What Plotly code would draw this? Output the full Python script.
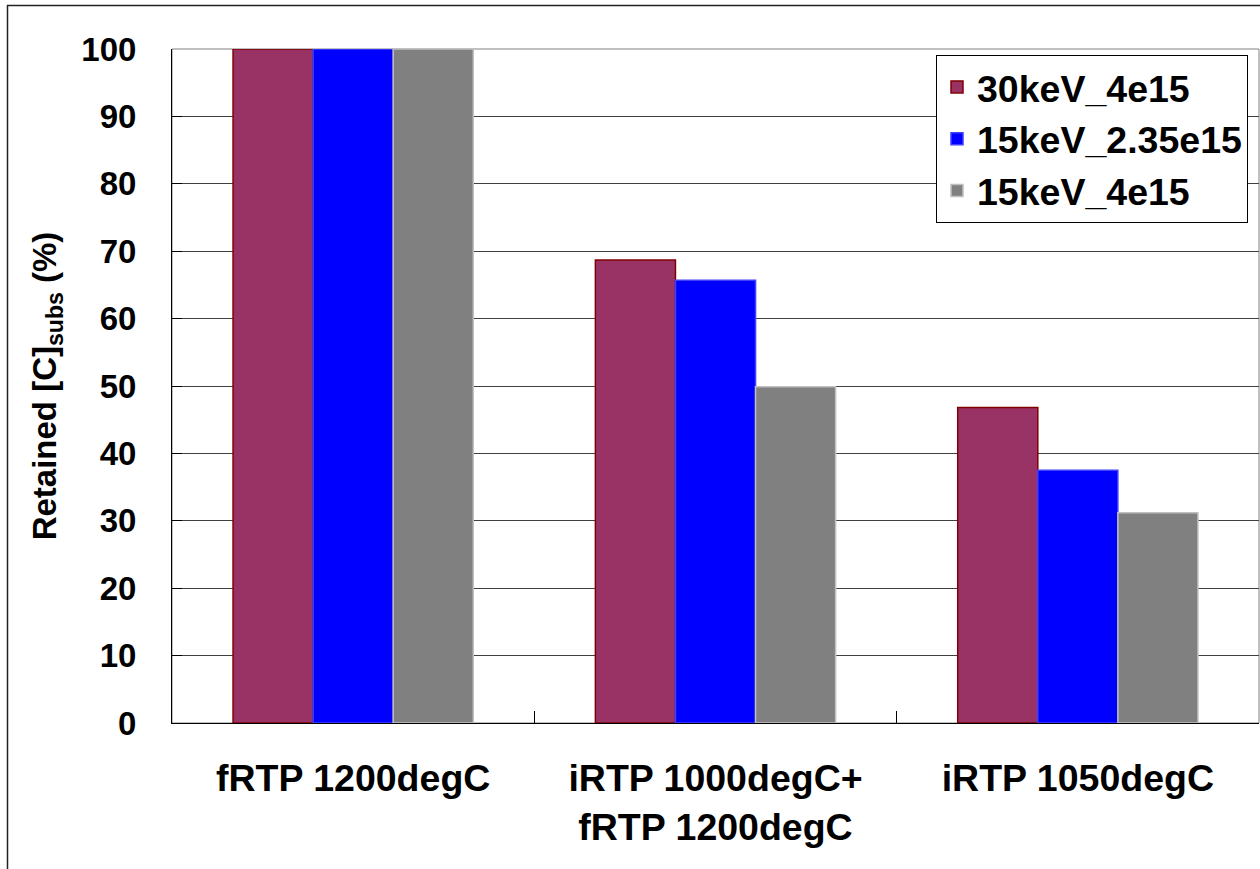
import plotly.graph_objects as go

categories = ["fRTP 1200degC", "iRTP 1000degC+<br>fRTP 1200degC", "iRTP 1050degC"]
series_names = ["30keV_4e15", "15keV_2.35e15", "15keV_4e15"]
s_30keV_4e15 = [100, 68.7, 46.8]
s_15keV_235e15 = [100, 65.7, 37.5]
s_15keV_4e15 = [100, 49.9, 31.2]
y_ticks = [0, 10, 20, 30, 40, 50, 60, 70, 80, 90, 100]

fill_colors = ["#993366", "#0000FF", "#808080"]
line_colors = ["#800000", "#4040FF", "#C0C0C0"]

FONT = "Arial, Liberation Sans, sans-serif"

fig = go.Figure()
for name, vals, fc, lc in zip(series_names, [s_30keV_4e15, s_15keV_235e15, s_15keV_4e15], fill_colors, line_colors):
    fig.add_trace(go.Bar(
        x=categories, y=vals, name=name,
        marker=dict(color=fc, line=dict(color=lc, width=1.5)),
    ))

W, H = 1260, 869
L, R, T, B = 172, 1, 49, 146
pw, ph = W - L - R, H - T - B

def px_x(px):
    return (px - L) / pw

def px_y(py):
    return (H - B - py) / ph

fig.update_layout(
    width=W, height=H,
    margin=dict(l=L, r=R, t=T, b=B, pad=0),
    paper_bgcolor="white", plot_bgcolor="white",
    barmode="group", bargap=0.337, bargroupgap=0,
    font=dict(family=FONT, color="black", size=33, weight="bold"),
    showlegend=True,
    legend=dict(
        x=px_x(936), y=px_y(55), xanchor="left", yanchor="top",
        bgcolor="white", bordercolor="black", borderwidth=1,
        font=dict(family=FONT, size=37.5, color="black", weight="bold"),
        tracegroupgap=0,
    ),
    xaxis=dict(
        showline=True, linecolor="black", linewidth=1,
        ticks="inside", ticklen=12, tickcolor="black", tickwidth=1,
        tickson="boundaries", showgrid=False,
        tickfont=dict(family=FONT, size=37.5, color="black", weight="bold"),
        ticklabelstandoff=22,
    ),
    yaxis=dict(
        range=[0, 100], tickvals=y_ticks, ticktext=[str(v) for v in y_ticks],
        showline=True, linecolor="black", linewidth=1,
        ticks="inside", ticklen=10, tickcolor="black", tickwidth=1,
        showgrid=True, gridcolor="#404040", gridwidth=1,
        tickfont=dict(family=FONT, size=33, color="black", weight="bold"),
        ticklabelstandoff=28,
        title=dict(text="Retained [C]<sub>subs</sub> (%)",
                   font=dict(family=FONT, size=33, color="black", weight="bold"),
                   standoff=14),
        zeroline=False,
    ),
    shapes=[
        dict(type="rect", xref="paper", yref="paper", x0=0, x1=1, y0=0, y1=1,
             line=dict(color="#808080", width=1), fillcolor="rgba(0,0,0,0)", layer="below"),
        dict(type="rect", xref="paper", yref="paper",
             x0=px_x(7.5), x1=px_x(1275), y0=px_y(5.5), y1=px_y(890),
             line=dict(color="#222222", width=1.5), fillcolor="rgba(0,0,0,0)", layer="above"),
    ],
)

fig.write_html("out.html")
